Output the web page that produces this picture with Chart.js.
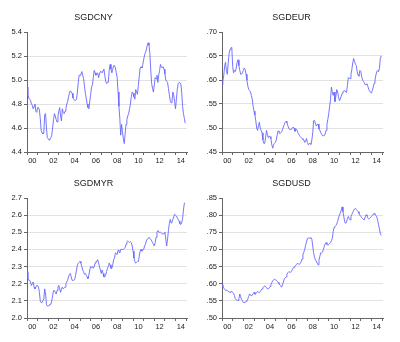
<!DOCTYPE html>
<html>
<head>
<meta charset="utf-8">
<script src="https://cdn.jsdelivr.net/npm/chart.js@4.4.1/dist/chart.umd.min.js"></script>
<style>
  html, body { margin: 0; padding: 0; background: #fff; }
  #wrap { position: relative; width: 400px; height: 342px; }
  canvas { position: absolute; }
</style>
</head>
<body>
<div id="wrap">
  <canvas id="c1" width="200" height="171" style="left:0;top:0"></canvas>
  <canvas id="c2" width="200" height="171" style="left:200px;top:0"></canvas>
  <canvas id="c3" width="200" height="171" style="left:0;top:166px"></canvas>
  <canvas id="c4" width="200" height="171" style="left:200px;top:166px"></canvas>
</div>
<script>
// monthly, Jan 2000 .. Dec 2014
const yearLabels = ['00', '02', '04', '06', '08', '10', '12', '14'];

const sgdcny = [
  4.94,4.88,4.85,4.84,4.83,4.80,4.79,4.76,4.78,4.80,4.74,4.73,
  4.77,4.77,4.75,4.68,4.58,4.56,4.55,4.56,4.71,4.72,4.60,4.52,
  4.51,4.50,4.51,4.52,4.54,4.60,4.67,4.72,4.70,4.67,4.65,4.70,
  4.74,4.77,4.70,4.66,4.76,4.73,4.72,4.74,4.76,4.80,4.82,4.86,
  4.89,4.91,4.90,4.89,4.85,4.84,4.83,4.83,4.84,4.90,4.98,5.04,
  5.04,5.05,5.07,5.04,5.01,4.95,4.89,4.85,4.80,4.77,4.76,4.82,
  4.88,4.94,4.96,5.02,5.08,5.06,5.04,5.05,5.06,5.02,5.05,5.07,
  5.07,5.06,5.08,5.09,5.04,4.99,4.97,4.98,4.98,5.08,5.13,5.09,
  5.06,5.09,5.12,5.12,5.10,5.06,5.02,4.90,4.78,4.68,4.54,4.63,
  4.57,4.51,4.47,4.55,4.63,4.67,4.70,4.72,4.76,4.80,4.86,4.90,
  4.89,4.86,4.84,4.92,4.90,4.88,4.96,5.03,5.10,5.11,5.10,5.13,
  5.17,5.21,5.23,5.25,5.29,5.31,5.29,5.22,5.08,4.97,4.93,4.90,
  4.96,5.02,5.01,5.04,4.98,5.04,5.08,5.13,5.11,5.10,5.11,5.09,
  5.05,5.00,4.99,4.98,4.93,4.88,4.83,4.81,4.82,4.90,4.87,4.82,
  4.76,4.84,4.92,4.97,4.98,4.98,4.97,4.90,4.78,4.72,4.68,4.64
];

const sgdeur = [
  .590,.598,.610,.630,.637,.618,.612,.635,.655,.664,.667,.668,
  .628,.615,.620,.618,.625,.637,.642,.630,.620,.612,.612,.615,
  .620,.625,.622,.612,.600,.588,.580,.578,.575,.568,.560,.545,
  .535,.527,.515,.500,.495,.505,.512,.500,.495,.490,.475,.468,
  .468,.480,.495,.487,.480,.483,.482,.478,.465,.458,.465,.468,
  .470,.475,.485,.494,.492,.488,.490,.492,.497,.502,.507,.512,
  .514,.511,.505,.500,.497,.497,.497,.500,.502,.500,.493,.497,
  .497,.492,.488,.485,.482,.480,.478,.476,.475,.470,.473,.478,
  .470,.465,.467,.468,.466,.475,.490,.515,.516,.510,.504,.507,
  .508,.498,.495,.490,.487,.484,.484,.484,.488,.495,.508,.518,
  .530,.545,.560,.585,.575,.568,.575,.555,.565,.580,.575,.565,
  .557,.560,.566,.572,.576,.577,.578,.575,.574,.588,.605,.604,
  .603,.612,.622,.636,.645,.638,.633,.630,.617,.610,.608,.620,
  .618,.608,.600,.597,.594,.590,.591,.592,.587,.580,.577,.574,
  .573,.578,.585,.593,.600,.610,.618,.620,.617,.625,.645,.650
];

const sgdmyr = [
  2.27,2.23,2.22,2.22,2.21,2.19,2.20,2.21,2.18,2.17,2.18,2.19,
  2.19,2.18,2.15,2.10,2.09,2.09,2.09,2.11,2.17,2.14,2.08,2.07,
  2.07,2.075,2.08,2.08,2.10,2.13,2.16,2.16,2.15,2.14,2.16,2.18,
  2.19,2.17,2.15,2.17,2.18,2.17,2.175,2.18,2.20,2.21,2.22,2.24,
  2.255,2.26,2.24,2.22,2.22,2.22,2.225,2.25,2.28,2.31,2.32,2.325,
  2.33,2.32,2.30,2.28,2.27,2.255,2.26,2.25,2.24,2.23,2.25,2.28,
  2.30,2.295,2.30,2.29,2.30,2.32,2.33,2.33,2.34,2.32,2.30,2.28,
  2.26,2.28,2.26,2.24,2.24,2.25,2.27,2.29,2.30,2.32,2.31,2.29,
  2.29,2.31,2.34,2.35,2.38,2.375,2.37,2.395,2.39,2.38,2.40,2.40,
  2.40,2.40,2.405,2.41,2.43,2.445,2.45,2.445,2.44,2.445,2.44,2.42,
  2.39,2.35,2.33,2.32,2.325,2.33,2.33,2.36,2.39,2.40,2.39,2.395,
  2.40,2.42,2.43,2.45,2.46,2.465,2.47,2.465,2.46,2.45,2.44,2.43,
  2.42,2.44,2.47,2.50,2.51,2.50,2.50,2.50,2.495,2.49,2.49,2.495,
  2.50,2.46,2.42,2.46,2.51,2.55,2.575,2.555,2.56,2.575,2.59,2.605,
  2.60,2.595,2.585,2.575,2.565,2.55,2.545,2.555,2.58,2.63,2.67,2.67
];

const sgdusd = [
  .597,.591,.587,.584,.580,.581,.580,.578,.576,.575,.577,.577,
  .575,.572,.566,.556,.553,.552,.551,.557,.570,.562,.554,.550,
  .545,.545,.546,.548,.550,.555,.563,.570,.568,.564,.567,.571,
  .575,.569,.571,.575,.577,.575,.574,.578,.581,.585,.588,.591,
  .594,.591,.588,.585,.585,.588,.592,.598,.603,.609,.611,.613,
  .612,.610,.607,.604,.600,.596,.594,.590,.597,.605,.614,.617,
  .620,.628,.632,.635,.634,.633,.636,.641,.646,.648,.651,.654,
  .657,.660,.657,.656,.660,.664,.672,.686,.692,.700,.712,.722,
  .732,.733,.733,.733,.734,.730,.710,.690,.677,.670,.666,.660,
  .655,.668,.680,.690,.690,.692,.700,.709,.716,.720,.715,.712,
  .715,.717,.720,.725,.732,.752,.764,.767,.770,.774,.782,.792,
  .800,.806,.814,.824,.810,.795,.780,.776,.780,.790,.796,.790,
  .786,.796,.802,.808,.814,.818,.820,.816,.813,.810,.805,.800,
  .797,.793,.790,.787,.786,.795,.801,.798,.791,.789,.791,.793,
  .796,.799,.803,.805,.802,.799,.795,.785,.772,.760,.746,.741
];

const cnyTicks = [4.4, 4.6, 4.8, 5.0, 5.2, 5.4];
const cnyTickLabels = ['4.4', '4.6', '4.8', '5.0', '5.2', '5.4'];
const eurTicks = [0.45, 0.50, 0.55, 0.60, 0.65, 0.70];
const eurTickLabels = ['.45', '.50', '.55', '.60', '.65', '.70'];
const myrTicks = [2.0, 2.1, 2.2, 2.3, 2.4, 2.5, 2.6, 2.7];
const myrTickLabels = ['2.0', '2.1', '2.2', '2.3', '2.4', '2.5', '2.6', '2.7'];
const usdTicks = [0.50, 0.55, 0.60, 0.65, 0.70, 0.75, 0.80, 0.85];
const usdTickLabels = ['.50', '.55', '.60', '.65', '.70', '.75', '.80', '.85'];

const FONT = 'Arial, "Liberation Sans", sans-serif';
const LINE = '#6666ff';
const AXIS = '#666';
const GRID = '#e2e2e2';
const TEXT = '#222';

// year boundaries get tick marks, mid-years of even years get labels
const xTickPos = [];
for (let k = 0; k <= 15; k++) {
  xTickPos.push(k * 12);
  if (k % 2 === 0 && k <= 14) xTickPos.push(k * 12 + 6);
}
xTickPos.sort((a, b) => a - b);

function makeChart(id, title, values, ticks, tickLabels, axisW, padR) {
  const yMin = ticks[0], yMax = ticks[ticks.length - 1];
  return new Chart(document.getElementById(id), {
    type: 'line',
    data: {
      datasets: [{
        data: values.map((v, i) => ({ x: i, y: v })),
        borderColor: LINE,
        borderWidth: 0.9,
        pointRadius: 0,
        tension: 0,
        fill: false
      }]
    },
    options: {
      responsive: false,
      animation: false,
      events: [],
      layout: { padding: { left: 0, right: padR, top: 0, bottom: 0 } },
      plugins: {
        legend: { display: false },
        tooltip: { enabled: false },
        title: {
          display: true,
          text: title,
          color: TEXT,
          font: { family: FONT, size: 9, weight: 'normal' },
          padding: { top: 12, bottom: 9.2 }
        }
      },
      scales: {
        x: {
          type: 'linear',
          min: 0,
          max: 181,
          afterBuildTicks: s => { s.ticks = xTickPos.map(v => ({ value: v })); },
          afterFit: s => { s.height = 19; },
          ticks: {
            autoSkip: false,
            maxRotation: 0,
            padding: 1,
            color: TEXT,
            font: { family: FONT, size: 7.5 },
            callback: v => (v % 12 === 6 ? yearLabels[(v - 6) / 24] : '')
          },
          grid: {
            drawOnChartArea: false,
            tickLength: 3,
            tickColor: c => (c.tick && c.tick.value % 12 === 0 ? AXIS : 'rgba(0,0,0,0)')
          },
          border: { color: AXIS, width: 1 }
        },
        y: {
          min: yMin,
          max: yMax,
          afterBuildTicks: s => { s.ticks = ticks.map(v => ({ value: v })); },
          afterFit: s => { s.width = axisW; },
          ticks: {
            padding: 2,
            color: TEXT,
            font: { family: FONT, size: 7.5 },
            callback: (v, i) => tickLabels[i]
          },
          grid: {
            tickLength: 3,
            tickColor: AXIS,
            color: c => (c.tick && Math.abs(c.tick.value - yMax) < 1e-9 ? 'rgba(0,0,0,0)' : GRID)
          },
          border: { color: AXIS, width: 1 }
        }
      }
    }
  });
}

makeChart('c1', 'SGDCNY', sgdcny, cnyTicks, cnyTickLabels, 27, 13);
makeChart('c2', 'SGDEUR', sgdeur, eurTicks, eurTickLabels, 22, 17);
makeChart('c3', 'SGDMYR', sgdmyr, myrTicks, myrTickLabels, 27, 13);
makeChart('c4', 'SGDUSD', sgdusd, usdTicks, usdTickLabels, 22, 17);
</script>
</body>
</html>
